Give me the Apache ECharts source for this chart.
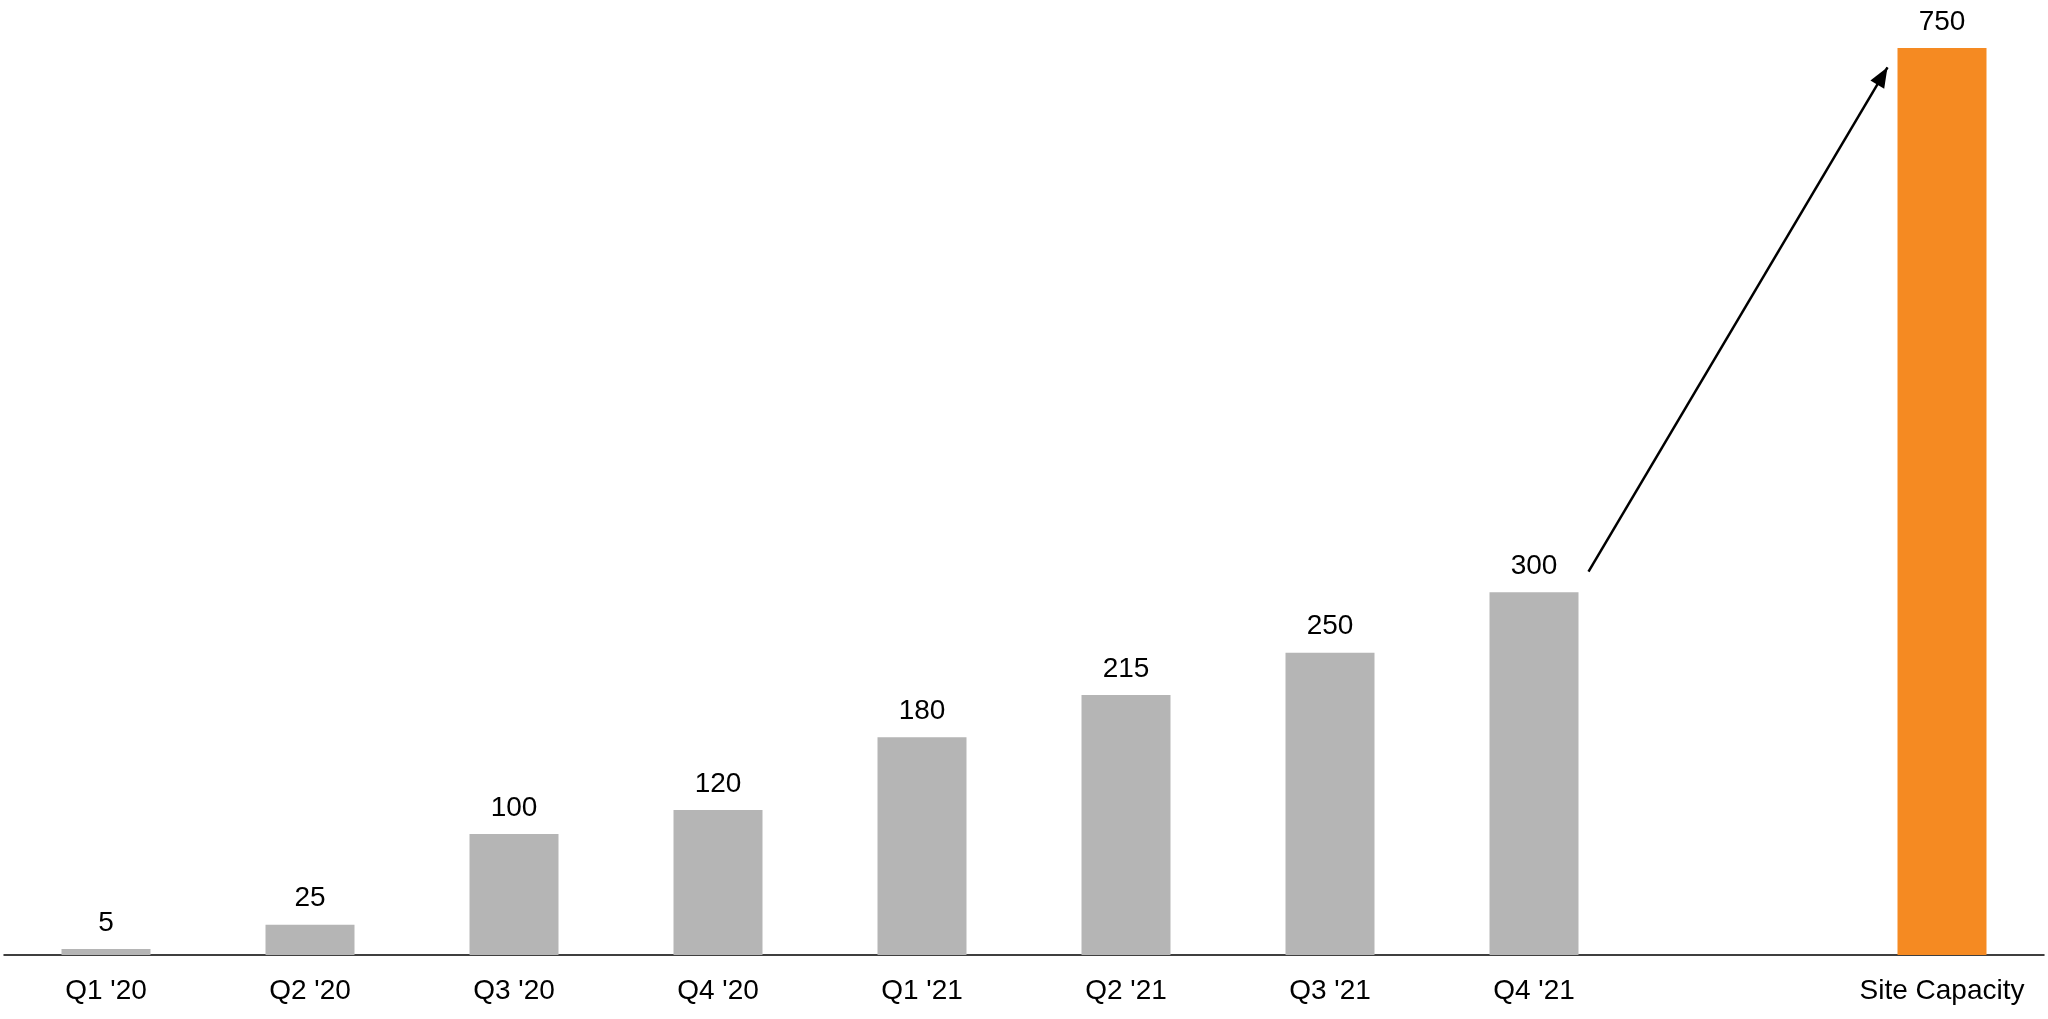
<!DOCTYPE html><html><head><meta charset="utf-8"><script src="https://cdn.jsdelivr.net/npm/echarts@6/dist/echarts.min.js"></script>
<style>html,body{margin:0;padding:0;background:#fff}#c{width:2048px;height:1019px}</style></head><body><div id="c"></div><script>
const categories=["Q1 '20","Q2 '20","Q3 '20","Q4 '20","Q1 '21","Q2 '21","Q3 '21","Q4 '21","","Site Capacity"];
const values=[5,25,100,120,180,215,250,300,null,750];
const colors=['#b5b5b5','#b5b5b5','#b5b5b5','#b5b5b5','#b5b5b5','#b5b5b5','#b5b5b5','#b5b5b5','#b5b5b5','#f58a22'];
const arrowFrom=[7,317], arrowTo=[9,734];
const chart=echarts.init(document.getElementById('c'));
const font='Liberation Sans, Arial, sans-serif';
chart.setOption({
 animation:false,
 grid:{left:4,right:4,top:48,bottom:64,containLabel:false},
 xAxis:{type:'category',data:categories,axisTick:{show:false},axisLine:{lineStyle:{color:'#000',width:1.5}},
  axisLabel:{color:'#000',fontSize:28,fontFamily:font,margin:22,interval:0}},
 yAxis:{type:'value',min:0,max:750,show:false,splitLine:{show:false}},
 series:[{type:'bar',barWidth:89,data:values.map((v,i)=>({value:v,itemStyle:{color:colors[i]}})),
  label:{show:true,position:'top',distance:12,color:'#000',fontSize:28,fontFamily:font}}]
});
const p1=chart.convertToPixel({gridIndex:0},arrowFrom);
const p2=chart.convertToPixel({gridIndex:0},arrowTo);
const bw=89;
const x1=p1[0]+bw/2+10, x2=p2[0]-bw/2-10;
chart.setOption({graphic:[{type:'line',shape:{x1:x1,y1:p1[1],x2:x2,y2:p2[1]},style:{stroke:'#000',lineWidth:2.5}},
 {type:'polygon',shape:{points:(()=>{const a=Math.atan2(p2[1]-p1[1],x2-x1),L=20,W=8;const bx=x2-L*Math.cos(a),by=p2[1]-L*Math.sin(a);return [[x2,p2[1]],[bx+W*Math.sin(a),by-W*Math.cos(a)],[bx-W*Math.sin(a),by+W*Math.cos(a)]];})()},style:{fill:'#000'}}]});
</script></body></html>
